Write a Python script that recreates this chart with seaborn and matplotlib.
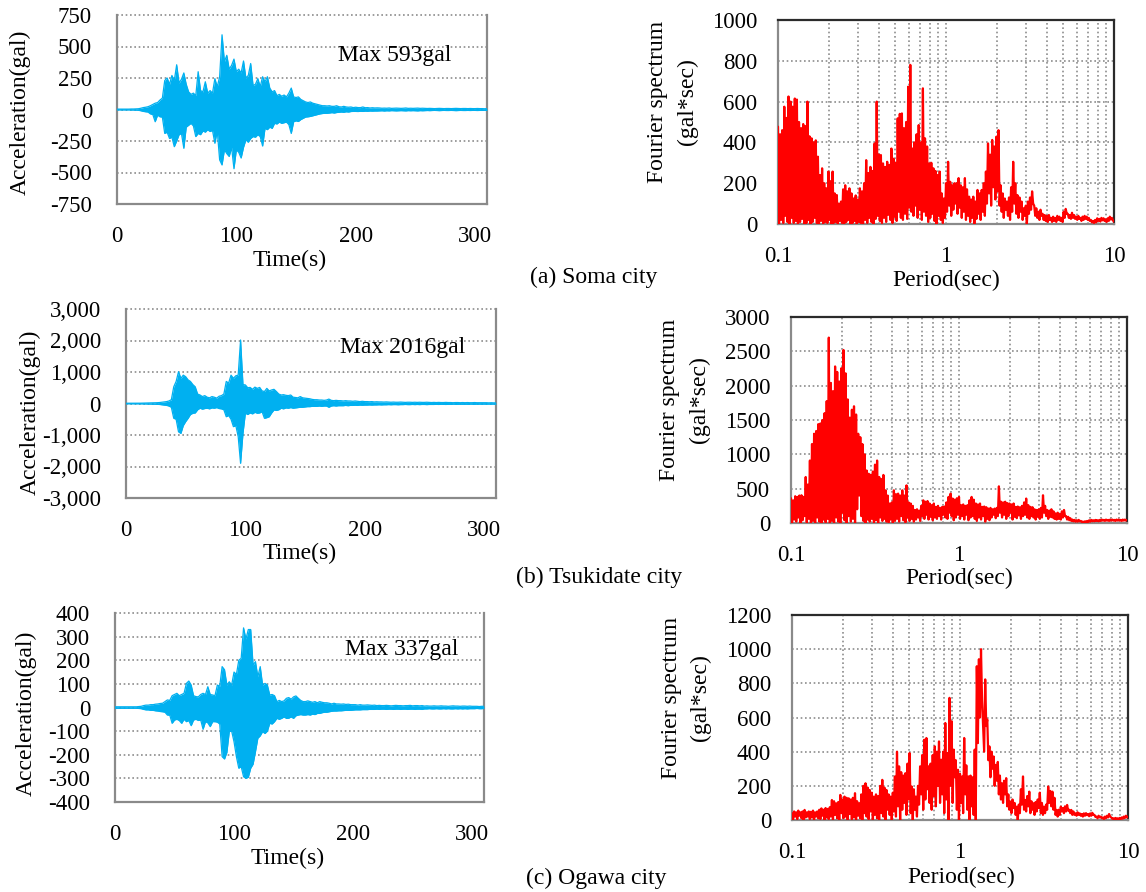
import numpy as np
import pandas as pd
import matplotlib
matplotlib.use("Agg")
import matplotlib.pyplot as plt
import seaborn as sns
from matplotlib.ticker import FixedLocator, LogLocator, NullFormatter

# ---------------------------------------------------------------- data
# acceleration records: time axis (s), upper / lower envelope of the trace (gal)
time_s = np.arange(0, 311, 2)

soma_upper = [3, 3, 3, 3, 3, 3, 4, 4, 5, 6,
              10, 15, 18, 22, 30, 40, 50, 55, 75, 90,
              230, 250, 200, 270, 230, 355, 210, 240, 290, 200,
              140, 120, 130, 110, 300, 150, 140, 220, 130, 150,
              130, 245, 180, 260, 593, 380, 430, 320, 350, 400,
              300, 320, 290, 385, 250, 270, 365, 190, 200, 245,
              180, 260, 220, 260, 170, 140, 150, 110, 120, 105,
              115, 100, 130, 170, 100, 95, 100, 80, 70, 60,
              55, 60, 50, 45, 40, 35, 30, 30, 28, 30,
              25, 25, 30, 22, 20, 25, 20, 18, 20, 15,
              18, 15, 15, 20, 14, 15, 12, 14, 12, 13,
              12, 10, 11, 10, 12, 9, 10, 11, 10, 9, 10, 12, 9, 10, 9, 10, 11, 9, 10, 9,
              8, 9, 8, 7, 8, 9, 8, 7, 8, 8, 7, 8, 9, 8, 7, 8, 8, 7, 8, 7,
              7, 8, 7, 7, 6, 7]
soma_lower = [-3, -3, -3, -3, -3, -3, -4, -4, -5, -6,
              -10, -15, -18, -20, -35, -40, -97, -45, -58, -60,
              -190, -180, -230, -220, -295, -250, -200, -190, -308, -140,
              -125, -110, -130, -215, -190, -200, -170, -180, -160, -175,
              -165, -268, -170, -400, -440, -320, -350, -373, -300, -470,
              -320, -340, -385, -300, -240, -260, -230, -215, -220, -200,
              -215, -290, -150, -160, -140, -150, -110, -115, -100, -110,
              -105, -100, -120, -190, -97, -90, -95, -80, -70, -60,
              -58, -55, -50, -45, -40, -35, -32, -30, -30, -28,
              -25, -28, -24, -22, -20, -22, -18, -20, -16, -15,
              -15, -16, -14, -15, -13, -14, -12, -13, -12, -12,
              -11, -10, -12, -10, -11, -9, -10, -11, -10, -9, -10, -11, -9, -10, -9, -10, -11, -9, -10, -9,
              -8, -9, -8, -7, -8, -9, -8, -7, -8, -8, -7, -8, -9, -8, -7, -8, -8, -7, -8, -7,
              -7, -8, -7, -7, -6, -7]

tsuki_upper = [8, 8, 8, 8, 8, 10, 10, 12, 12, 15,
               15, 18, 20, 25, 30, 40, 50, 60, 80, 120,
               530, 700, 1010, 800, 900, 850, 750, 700, 600, 530,
               300, 270, 220, 250, 200, 180, 220, 200, 170, 230,
               250, 300, 700, 650, 900, 800, 880, 900, 2016, 600,
               590, 500, 510, 450, 520, 480, 510, 400, 380, 480,
               400, 430, 450, 380, 300, 270, 280, 260, 250, 270,
               200, 190, 180, 220, 180, 170, 160, 150, 130, 120,
               120, 110, 110, 100, 110, 140, 100, 90, 100, 90,
               90, 80, 90, 80, 80, 70, 80, 70, 60, 70,
               60, 60, 55, 60, 50, 55, 50, 50, 45, 50,
               45, 40, 45, 40, 40, 45, 40, 35, 40, 40, 35, 40, 35, 40, 35, 35, 40, 35, 30, 35,
               30, 35, 30, 30, 35, 30, 30, 25, 30, 30, 25, 30, 25, 30, 25, 25, 30, 25, 25, 25,
               25, 25, 20, 25, 20, 20]
tsuki_lower = [-8, -8, -8, -8, -8, -10, -10, -12, -12, -15,
               -15, -18, -20, -25, -30, -40, -50, -60, -80, -120,
               -470, -500, -900, -950, -700, -575, -470, -350, -310, -300,
               -200, -150, -180, -160, -150, -170, -140, -150, -130, -160,
               -170, -200, -420, -380, -500, -735, -700, -1050, -1900, -950,
               -310, -350, -300, -330, -280, -310, -300, -260, -470, -450,
               -420, -300, -205, -220, -200, -150, -170, -140, -150, -130,
               -150, -140, -130, -120, -120, -110, -100, -100, -90, -90,
               -90, -80, -90, -80, -80, -120, -80, -70, -80, -70,
               -70, -70, -60, -70, -60, -60, -55, -60, -50, -55,
               -50, -50, -45, -50, -45, -45, -40, -45, -40, -40,
               -35, -40, -35, -35, -40, -35, -35, -30, -35, -35, -30, -35, -30, -35, -30, -30, -35, -30, -30, -30,
               -25, -30, -25, -25, -30, -25, -25, -20, -25, -25, -20, -25, -20, -25, -20, -20, -25, -20, -20, -20,
               -20, -20, -18, -20, -18, -18]

ogawa_upper = [3, 3, 3, 3, 3, 3, 3, 3, 3, 3,
               4, 5, 8, 10, 10, 12, 12, 14, 15, 17,
               18, 25, 32, 30, 50, 55, 60, 50, 55, 60,
               102, 112, 95, 50, 46, 45, 55, 60, 55, 88,
               55, 53, 50, 95, 90, 173, 160, 95, 109, 95,
               150, 140, 200, 208, 337, 290, 330, 330, 180, 194,
               130, 173, 95, 102, 95, 53, 55, 50, 25, 30,
               25, 28, 39, 42, 35, 45, 49, 39, 30, 25,
               25, 28, 25, 22, 25, 20, 25, 22, 20, 20,
               18, 15, 18, 15, 15, 14, 15, 13, 14, 12,
               12, 12, 10, 12, 10, 10, 11, 10, 9, 10,
               8, 9, 8, 8, 9, 8, 7, 8, 9, 8, 8, 7, 8, 8, 9, 7, 8, 8, 7, 8,
               6, 7, 6, 6, 7, 6, 6, 7, 6, 6, 5, 6, 7, 6, 6, 5, 6, 6, 5, 6,
               5, 5, 5, 4, 5, 5]
ogawa_lower = [-3, -3, -3, -3, -3, -3, -3, -3, -3, -3,
               -4, -5, -8, -10, -10, -12, -12, -14, -15, -17,
               -18, -20, -32, -32, -67, -53, -50, -55, -67, -50,
               -60, -55, -77, -53, -50, -55, -53, -92, -60, -65,
               -81, -60, -60, -62, -70, -208, -218, -190, -102, -100,
               -145, -208, -257, -250, -293, -300, -295, -257, -240, -187,
               -130, -120, -102, -110, -100, -67, -70, -60, -46, -50,
               -46, -40, -46, -45, -40, -46, -35, -32, -30, -32,
               -32, -30, -32, -28, -30, -25, -25, -22, -20, -20,
               -18, -16, -15, -15, -14, -14, -13, -12, -12, -12,
               -11, -10, -10, -10, -9, -9, -9, -8, -8, -8,
               -7, -8, -7, -7, -8, -7, -7, -8, -7, -7, -8, -7, -7, -8, -7, -7, -8, -7, -7, -8,
               -6, -6, -5, -6, -6, -5, -6, -6, -5, -6, -5, -6, -6, -5, -6, -5, -6, -5, -6, -5,
               -5, -5, -4, -5, -5, -4]

# Fourier spectra: period axis (s); peaks sit on the grid, troughs half a step later
log_period = np.linspace(-1, 1, 161)
period_peak = 10 ** log_period
period_trough = 10 ** (log_period + 0.00625)

soma_fs_upper = [477, 440, 460, 575, 520, 625, 600, 575, 615, 610,
                 500, 470, 490, 480, 600, 430, 420, 400, 410, 330,
                 240, 273, 200, 175, 257, 210, 257, 150, 142, 100,
                 110, 170, 190, 160, 175, 150, 125, 140, 120, 175,
                 160, 200, 313, 250, 280, 260, 395, 600, 340, 338,
                 297, 280, 305, 290, 370, 320, 300, 518, 540, 542,
                 470, 500, 673, 780, 370, 400, 440, 485, 400, 665,
                 420, 380, 297, 300, 273, 260, 240, 257, 150, 125,
                 200, 305, 207, 190, 200, 200, 225, 190, 180, 225,
                 170, 134, 120, 134, 110, 167, 150, 167, 200, 257,
                 395, 340, 412, 380, 428, 460, 190, 150, 125, 110,
                 130, 180, 305, 200, 142, 130, 110, 77, 90, 110,
                 130, 160, 90, 77, 60, 70, 50, 44, 40, 44,
                 30, 36, 30, 40, 36, 30, 60, 74, 50, 44,
                 55, 44, 36, 40, 30, 36, 40, 36, 30, 20,
                 15, 20, 28, 25, 30, 28, 22, 28, 36, 30,
                 11]
soma_fs_lower = [0, 20, 5, 40, 10, 0, 30, 5, 15, 0,
                 10, 25, 0, 5, 20, 0, 10, 30, 5, 0,
                 15, 0, 10, 5, 20, 0, 5, 10, 0, 15,
                 5, 0, 10, 20, 0, 5, 15, 0, 10, 5,
                 0, 20, 5, 30, 10, 0, 25, 40, 15, 5,
                 30, 10, 45, 20, 5, 35, 15, 60, 30, 20,
                 50, 25, 80, 60, 40, 90, 30, 70, 20, 60,
                 40, 10, 30, 50, 15, 0, 40, 20, 5, 30,
                 60, 90, 40, 70, 100, 50, 80, 30, 60, 20,
                 40, 10, 30, 0, 25, 50, 20, 60, 40, 100,
                 150, 90, 180, 120, 160, 90, 60, 30, 70, 40,
                 20, 60, 100, 50, 30, 60, 20, 40, 0, 50,
                 70, 100, 40, 30, 20, 40, 20, 15, 10, 20,
                 10, 15, 10, 20, 15, 10, 30, 50, 30, 25,
                 30, 25, 20, 25, 15, 20, 25, 20, 15, 8,
                 5, 8, 15, 12, 18, 15, 10, 15, 22, 18,
                 5]

tsuki_fs_upper = [360, 330, 390, 380, 400, 404, 380, 670, 560, 910,
                  1150, 1300, 1340, 1440, 1450, 1500, 1600, 1775, 2700, 2040,
                  1920, 2280, 2200, 2060, 2255, 2520, 2180, 1800, 1535, 1650,
                  1700, 1580, 1300, 1250, 1150, 1000, 765, 717, 700, 750,
                  850, 910, 670, 640, 700, 476, 400, 284, 300, 476,
                  420, 428, 400, 476, 400, 548, 300, 284, 250, 190,
                  200, 180, 250, 330, 310, 320, 284, 260, 284, 235,
                  250, 220, 235, 240, 300, 380, 428, 356, 340, 360,
                  380, 260, 270, 250, 260, 330, 380, 340, 284, 270,
                  284, 235, 240, 230, 210, 220, 200, 210, 220, 534,
                  310, 300, 310, 290, 284, 270, 284, 235, 240, 230,
                  250, 300, 356, 260, 235, 230, 200, 190, 200, 220,
                  404, 250, 190, 180, 200, 170, 140, 150, 130, 170,
                  190, 100, 90, 70, 50, 45, 40, 45, 30, 20,
                  25, 30, 40, 45, 40, 45, 40, 45, 50, 45,
                  50, 45, 50, 50, 45, 50, 50, 45, 50, 50,
                  45]
tsuki_fs_lower = [0, 50, 20, 80, 0, 40, 100, 10, 60, 0,
                  30, 0, 80, 20, 0, 50, 10, 60, 0, 30,
                  0, 80, 20, 0, 150, 40, 0, 100, 20, 60,
                  0, 200, 400, 100, 30, 0, 50, 20, 60, 10,
                  40, 0, 80, 30, 60, 20, 10, 50, 0, 30,
                  60, 20, 100, 40, 10, 80, 30, 60, 20, 50,
                  80, 30, 100, 60, 120, 50, 90, 40, 80, 60,
                  100, 50, 120, 80, 60, 150, 100, 40, 80, 120,
                  60, 100, 50, 120, 40, 80, 100, 60, 30, 80,
                  50, 100, 20, 60, 40, 80, 120, 70, 100, 150,
                  80, 120, 60, 100, 150, 50, 90, 70, 110, 60,
                  100, 120, 80, 60, 100, 80, 50, 90, 60, 80,
                  150, 100, 60, 90, 80, 60, 50, 60, 50, 80,
                  100, 50, 40, 30, 25, 20, 20, 25, 15, 10,
                  10, 15, 20, 25, 25, 30, 25, 30, 35, 30,
                  35, 30, 35, 35, 30, 35, 35, 30, 35, 35,
                  30]

ogawa_fs_upper = [40, 50, 45, 55, 45, 50, 59, 45, 50, 48,
                  55, 45, 50, 60, 68, 60, 70, 65, 75, 117,
                  110, 98, 105, 147, 120, 137, 130, 127, 120, 130,
                  157, 110, 98, 150, 200, 215, 190, 176, 160, 137,
                  150, 140, 200, 235, 190, 176, 150, 137, 160, 255,
                  400, 314, 280, 260, 274, 330, 392, 196, 180, 137,
                  200, 314, 380, 470, 480, 314, 330, 380, 431, 400,
                  460, 353, 400, 568, 392, 715, 578, 412, 350, 294,
                  270, 255, 480, 320, 255, 260, 250, 412, 900, 941,
                  1000, 549, 823, 588, 431, 400, 372, 323, 340, 260,
                  215, 230, 245, 150, 108, 120, 100, 78, 90, 180,
                  255, 117, 140, 166, 110, 98, 105, 120, 160, 100,
                  78, 90, 196, 170, 166, 130, 59, 60, 78, 70,
                  80, 88, 60, 59, 50, 39, 45, 39, 35, 39,
                  40, 35, 39, 42, 30, 20, 25, 20, 15, 20,
                  25, 35, 15, 10, 12, 10, 12, 15, 20, 25,
                  20]
ogawa_fs_lower = [0, 20, 5, 25, 10, 0, 15, 20, 5, 15,
                  0, 20, 10, 5, 25, 0, 15, 5, 20, 0,
                  30, 10, 0, 40, 10, 20, 0, 35, 5, 15,
                  0, 25, 10, 0, 40, 20, 5, 50, 0, 30,
                  10, 0, 40, 20, 0, 60, 30, 0, 50, 20,
                  80, 0, 60, 100, 30, 120, 40, 0, 60, 20,
                  90, 150, 60, 120, 180, 100, 60, 140, 80, 200,
                  100, 150, 40, 120, 0, 200, 100, 250, 60, 0,
                  100, 40, 150, 60, 0, 80, 30, 0, 450, 600,
                  700, 400, 550, 350, 250, 300, 200, 230, 150, 120,
                  100, 150, 80, 60, 40, 70, 30, 0, 40, 90,
                  60, 50, 80, 40, 60, 30, 50, 70, 40, 30,
                  40, 60, 100, 80, 60, 30, 20, 30, 50, 40,
                  50, 55, 40, 30, 30, 25, 30, 25, 20, 25,
                  28, 22, 25, 30, 18, 10, 15, 10, 5, 10,
                  15, 20, 8, 3, 5, 3, 5, 8, 12, 15,
                  10]

time_ticks = [0, 100, 200, 300]
period_ticks = [0.1, 1, 10]
period_ticklabels = ["0.1", "1", "10"]

captions = ["(a) Soma city", "(b) Tsukidate city", "(c) Ogawa city"]
max_labels = ["Max 593gal", "Max 2016gal", "Max 337gal"]

# ---------------------------------------------------------------- style
sns.set_style("white")
plt.rcParams["font.family"] = ["Liberation Serif", "DejaVu Serif"]
plt.rcParams["text.color"] = "black"
plt.rcParams["axes.labelcolor"] = "black"
plt.rcParams["xtick.color"] = "black"
plt.rcParams["ytick.color"] = "black"

BLUE = "#00B0F0"
RED = "#FF0000"
GREY_SPINE = "#8a8a8a"
DARK_SPINE = "#2b2b2b"
GRID = dict(color="#8c8c8c", linestyle=(0, (1, 1.6)), linewidth=1.2)
FS_TICK = 16.5
FS_LABEL = 17

W, H = 1146, 892
fig = plt.figure(figsize=(W / 100, H / 100), dpi=100)


def px_rect(l, t, r, b):
    return [l / W, 1 - b / H, (r - l) / W, (b - t) / H]


def fig_text(x, y, s, **kw):
    kw.setdefault("fontsize", FS_LABEL)
    kw.setdefault("color", "black")
    fig.text(x / W, 1 - y / H, s, **kw)


def wave_panel(rect, upper, lower, lim, step, fmt):
    ax = fig.add_axes(px_rect(*rect))
    df = pd.DataFrame({"t": time_s, "up": upper, "lo": lower})
    ax.fill_between(df["t"], df["lo"], df["up"], color=BLUE, linewidth=0, zorder=3)
    for col in ("up", "lo"):
        sns.lineplot(data=df, x="t", y=col, color=BLUE, linewidth=0.9, ax=ax, zorder=3)
    ax.set_xlim(0, 310)
    ax.set_ylim(-lim, lim)
    ticks = np.arange(-lim, lim + 1, step)
    ax.set_yticks(ticks)
    ax.set_yticklabels([fmt(v) for v in ticks])
    ax.set_xticks(time_ticks)
    ax.set_xticklabels([str(v) for v in time_ticks])
    ax.set_xlabel("")
    ax.set_ylabel("")
    ax.set_axisbelow(True)
    ax.grid(False)
    ax.grid(axis="y", **GRID)
    for gl in ax.get_ygridlines():
        gl.set_clip_on(False)
    for side in ("left", "bottom", "right"):
        ax.spines[side].set_color(GREY_SPINE)
        ax.spines[side].set_linewidth(1.6)
    ax.spines["top"].set_visible(False)
    ax.tick_params(length=0, labelsize=FS_TICK, labelcolor="black")
    ax.tick_params(axis="y", pad=18)
    ax.tick_params(axis="x", pad=16)
    return ax


def spec_panel(rect, upper, lower, ymax, step):
    ax = fig.add_axes(px_rect(*rect))
    # alternate peak / trough readings into one continuous trace
    n = len(upper)
    trace = pd.DataFrame({
        "p": np.ravel(np.column_stack([period_peak, period_trough])),
        "fs": np.ravel(np.column_stack([upper, lower])),
        "order": np.arange(2 * n),
    })
    trace = trace[trace["p"] <= 10.0]
    sns.lineplot(data=trace, x="p", y="fs", color=RED, linewidth=1.6,
                 sort=False, estimator=None, ax=ax, zorder=3)
    ax.set_xscale("log")
    ax.set_xlim(0.1, 10)
    ax.set_ylim(0, ymax)
    ax.xaxis.set_major_locator(FixedLocator(period_ticks))
    ax.set_xticklabels(period_ticklabels)
    ax.xaxis.set_minor_locator(LogLocator(base=10, subs=np.arange(2, 10)))
    ax.xaxis.set_minor_formatter(NullFormatter())
    ax.set_yticks(np.arange(0, ymax + 1, step))
    ax.set_yticklabels([str(v) for v in np.arange(0, ymax + 1, step)])
    ax.set_xlabel("")
    ax.set_ylabel("")
    ax.set_axisbelow(True)
    ax.grid(False)
    ax.grid(which="both", axis="x", **GRID)
    ax.grid(axis="y", **GRID)
    for side in ("left", "bottom"):
        ax.spines[side].set_color(GREY_SPINE)
        ax.spines[side].set_linewidth(1.6)
    for side in ("top", "right"):
        ax.spines[side].set_color(DARK_SPINE)
        ax.spines[side].set_linewidth(1.6)
    ax.tick_params(which="both", length=0, labelsize=FS_TICK, labelcolor="black")
    ax.tick_params(axis="y", pad=15)
    ax.tick_params(axis="x", pad=16)
    return ax


plain = lambda v: str(int(v))
comma = lambda v: f"{int(v):,}"

# ---------------------------------------------------------------- panels
wave_panel((117, 15, 487, 204), soma_upper, soma_lower, 750, 250, plain)
wave_panel((126, 309, 496, 498), tsuki_upper, tsuki_lower, 3000, 1000, comma)
wave_panel((115, 613, 484, 802), ogawa_upper, ogawa_lower, 400, 100, plain)

spec_panel((778, 20, 1114, 224), soma_fs_upper, soma_fs_lower, 1000, 200)
spec_panel((791, 317, 1127, 523), tsuki_fs_upper, tsuki_fs_lower, 3000, 500)
spec_panel((792, 615, 1128, 820), ogawa_fs_upper, ogawa_fs_lower, 1200, 200)

# ---------------------------------------------------------------- text
for (x, y), s in zip([(338, 55), (340, 347), (345, 650)], max_labels):
    fig_text(x, y, s, ha="left", va="center")

for x, y in [(20, 112), (30, 412), (26, 713)]:
    fig_text(x, y, "Acceleration(gal)", rotation=90, ha="center", va="center")

for x, y in [(290, 260), (300, 553), (288, 858)]:
    fig_text(x, y, "Time(s)", ha="center", va="center")

for x, y in [(946, 280), (959, 578), (961, 877)]:
    fig_text(x, y, "Period(sec)", ha="center", va="center")

for (x1, x2, y) in [(657, 687, 102), (670, 699, 400), (672, 700, 698)]:
    fig_text(x1, y, "Fourier spectrum", rotation=90, ha="center", va="center")
    fig_text(x2, y, "(gal*sec)", rotation=90, ha="center", va="center")

for (x, y), s in zip([(594, 277), (599, 577), (596, 878)], captions):
    fig_text(x, y, s, ha="center", va="center")

fig.savefig("out.png", dpi=100)
